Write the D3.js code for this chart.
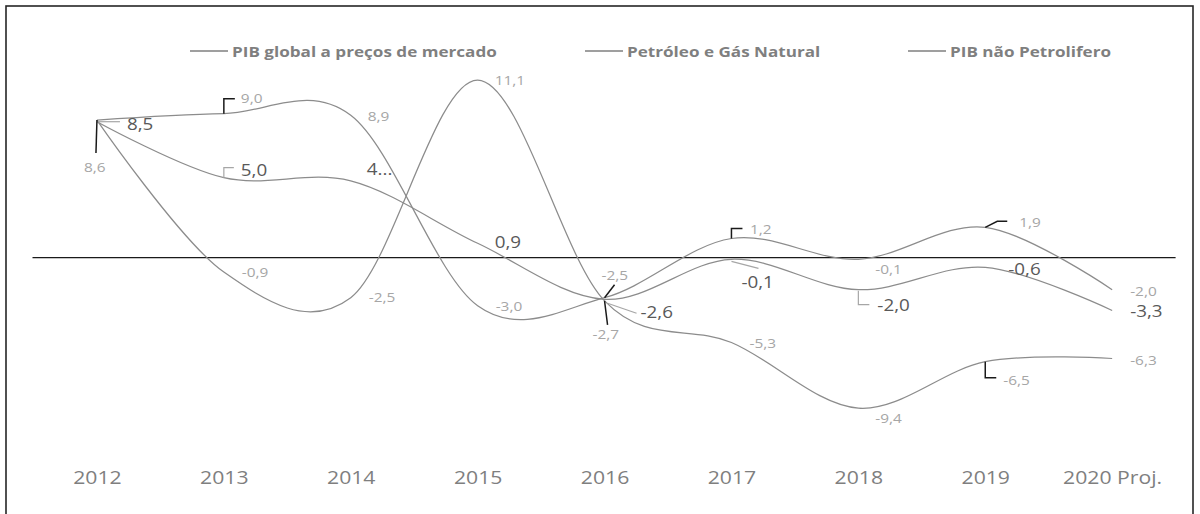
<!DOCTYPE html>
<html lang="pt">
<head>
  <meta charset="utf-8">
  <title>PIB - taxas de crescimento</title>
  <script src="https://d3js.org/d3.v7.min.js"></script>
  <style>
    body { margin: 0; background: #fff; }
    svg text { font-family: "Open Sans", "Liberation Sans", sans-serif; }
    .ano { font-size: 18.6px; fill: #7f7f7f; }
    .legenda { font-size: 15px; font-weight: bold; fill: #7f7f7f; }
    .rotulo-grande { font-size: 16.5px; fill: #595959; }
    .rotulo-pequeno { font-size: 13.5px; fill: #a6a6a6; }
  </style>
</head>
<body>
<svg width="1200" height="514"></svg>
<script>
  // dados (%)
  var anos = ["2012", "2013", "2014", "2015", "2016", "2017", "2018", "2019", "2020 Proj."];
  var pibGlobal = [8.5, 5.0, 4.8, 0.9, -2.6, -0.1, -2.0, -0.6, -3.3];
  var petroleoGas = [8.6, -0.9, -2.5, 11.1, -2.7, -5.3, -9.4, -6.5, -6.3];
  var pibNaoPetrolifero = [8.6, 9.0, 8.9, -3.0, -2.5, 1.2, -0.1, 1.9, -2.0];
  var nomes = ["PIB global a preços de mercado", "Petróleo e Gás Natural", "PIB não Petrolifero"];

  // o original está esticado na horizontal
  var esticar = 1.14;

  var svg = d3.select("svg");

  var x = d3.scalePoint().domain(anos).range([33.5, 1175.6]).padding(0.5);
  var y = d3.scaleLinear().domain([-10, 12]).range([417.7, 65.7]);

  var fmt = d3.formatLocale({ decimal: ",", thousands: ".", grouping: [3], currency: ["", ""], minus: "-" }).format(".1f");

  // moldura
  svg.append("rect")
    .attr("x", 6).attr("y", 6).attr("width", 1187).attr("height", 530)
    .attr("fill", "none").attr("stroke", "#262626").attr("stroke-width", 1.6);

  // linha do zero
  svg.append("line")
    .attr("x1", x.range()[0] - 1).attr("x2", x.range()[1])
    .attr("y1", y(0)).attr("y2", y(0))
    .attr("stroke", "#1a1a1a").attr("stroke-width", 1.3);

  // eixo das categorias (só os textos)
  var eixo = svg.append("g")
    .attr("transform", "translate(0,484)")
    .call(d3.axisBottom(x).tickSize(0).tickPadding(0));
  eixo.select(".domain").remove();
  eixo.selectAll("text")
    .attr("class", "ano")
    .attr("y", 0).attr("dy", 0)
    .attr("fill", null)
    .attr("transform", "scale(" + esticar + ",1)");
  eixo.attr("font-family", null).attr("font-size", null);

  // curvas suavizadas como no Excel
  var linha = d3.line()
    .x(function(d, i) { return x(anos[i]); })
    .y(function(d) { return y(d); })
    .curve(d3.curveCardinal.tension(0));

  var series = [pibGlobal, petroleoGas, pibNaoPetrolifero];
  svg.selectAll("path.serie")
    .data(series)
    .enter().append("path")
      .attr("class", "serie")
      .attr("d", linha)
      .attr("fill", "none")
      .attr("stroke", "#8c8c8c")
      .attr("stroke-width", 1.25);

  // legenda
  var posLegenda = [190, 585, 908];
  var leg = svg.selectAll("g.leg")
    .data(nomes)
    .enter().append("g")
      .attr("class", "leg")
      .attr("transform", function(d, i) { return "translate(" + posLegenda[i] + ",51)"; });
  leg.append("line")
    .attr("x1", 0).attr("x2", 38).attr("y1", 0).attr("y2", 0)
    .attr("stroke", "#7f7f7f").attr("stroke-width", 1.5);
  leg.append("text")
    .attr("class", "legenda")
    .attr("transform", "translate(42,5.5) scale(" + esticar + ",1)")
    .text(function(d) { return d; });

  // posição dos rótulos: [dx, dy, guia (pontos relativos), cor da guia]
  var G = "#a6a6a6", P = "#1a1a1a";
  var rotPib = [
    [30, 8.3, [[1, 0], [23, 0]], G],
    [17, -1.7, [[0, 0], [0, -10], [10, -10]], G],
    [16, -6, null],
    [17, 5, null],
    [36, 19, [[3, 4], [32, 14]], G],
    [10, 29, [[0, 2], [27, 9]], G],
    [19, 21, [[0, 1], [0, 15], [11, 15]], G],
    [23, 8, null],
    [18, 6.5, null]
  ];
  var rotPetroleo = [
    [-13, 51.6, [[0, 0], [-1, 33]], P],
    [18, 5, null],
    [18, 4.5, null],
    [17, 5, null],
    [-12, 38, [[0, 0], [3, 24]], P],
    [18, 5.5, null],
    [17, 14.5, null],
    [18, 23, [[0, 0], [0, 16], [11, 16]], P],
    [18, 6.5, null]
  ];
  var rotNaoPetrolifero = [
    null,
    [17, -10.4, [[0, 0], [0, -15], [11, -15]], P],
    [17, 5.7, null],
    [18, 5, null],
    [-3, -17.7, [[0, 0], [10, -13]], P],
    [18.5, -4.5, [[0, 0], [0, -10], [11, -10]], P],
    [17, 14.7, null],
    [34, 0, [[0, 0], [12, -6], [22, -6]], P],
    [18, 6.3, null]
  ];

  function rotulos(valores, posicoes, classe, truncar) {
    var g = svg.append("g");
    valores.forEach(function(v, i) {
      var p = posicoes[i];
      if (!p) return;
      var px = x(anos[i]), py = y(v);
      if (p[2]) {
        g.append("path")
          .attr("d", d3.line()(p[2].map(function(q) { return [px + q[0], py + q[1]]; })))
          .attr("fill", "none")
          .attr("stroke", p[3])
          .attr("stroke-width", p[3] === P ? 1.5 : 1.2);
      }
      var txt = truncar && truncar.indexOf(i) >= 0 ? fmt(v).split(",")[0] + "..." : fmt(v);
      g.append("text")
        .attr("class", classe)
        .attr("transform", "translate(" + (px + p[0]) + "," + (py + p[1]) + ") scale(" + esticar + ",1)")
        .text(txt);
    });
  }

  rotulos(pibGlobal, rotPib, "rotulo-grande", [2]);
  rotulos(petroleoGas, rotPetroleo, "rotulo-pequeno");
  rotulos(pibNaoPetrolifero, rotNaoPetrolifero, "rotulo-pequeno");
</script>
</body>
</html>
